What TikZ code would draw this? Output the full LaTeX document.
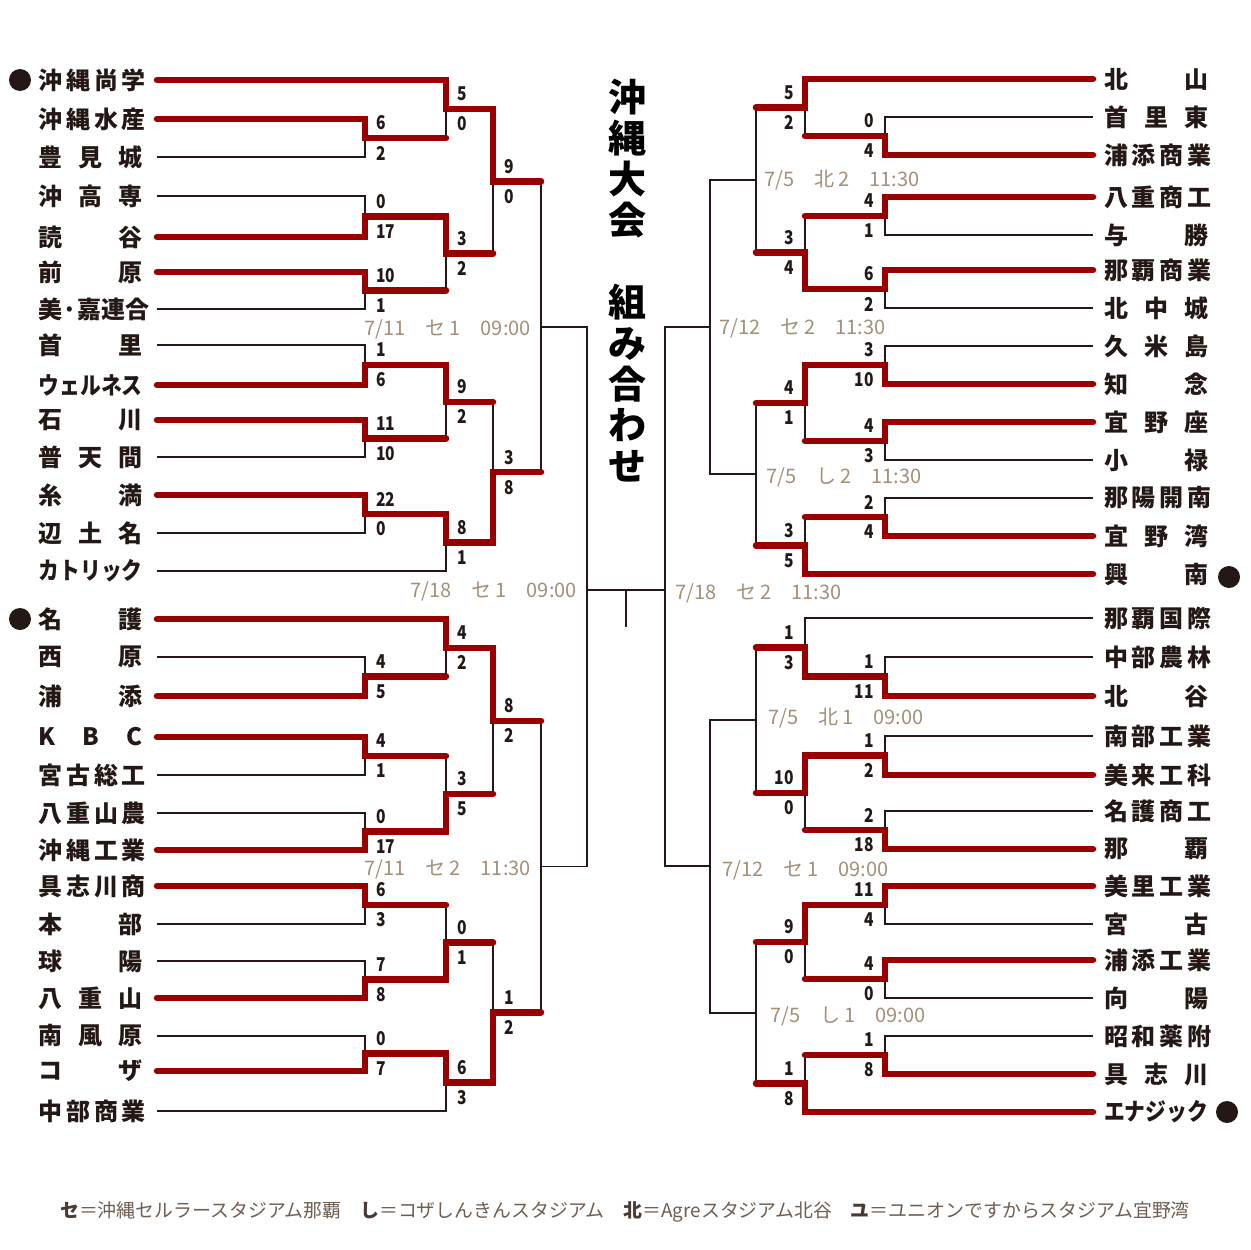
\documentclass[tikz,border=0pt]{standalone}
\usepackage{fontspec}
\usepackage{graphicx}
\usetikzlibrary{calc}
\setmainfont{Noto Sans CJK JP}
\newfontfamily\jp{Noto Sans CJK JP}
\newfontfamily\jpnum{Noto Sans CJK JP}[FakeStretch=0.82]
\definecolor{Ink}{HTML}{231815}
\definecolor{Crimson}{HTML}{990000}
\definecolor{Sand}{HTML}{A38F7A}
\definecolor{Umber}{HTML}{6F5E52}
\definecolor{UmberDark}{HTML}{4A3B32}
\newcommand{\kana}[1]{\scalebox{0.866}[1]{#1}}
\newcommand{\vkey}[1]{{\bfseries\color{UmberDark}#1}}
\tikzset{
  team/.style={font=\jp\bfseries\fontsize{24}{24}\selectfont,text=Ink,inner sep=0pt},
  score/.style={font=\jpnum\bfseries\fontsize{19}{19}\selectfont,text=Ink,inner sep=1pt},
  date/.style={font=\jp\fontsize{20}{20}\selectfont,text=Sand,inner sep=0pt},
  headline/.style={font=\jp\bfseries\fontsize{38}{41}\selectfont,text=black,align=center,inner sep=0pt},
  legend/.style={font=\jp\fontsize{18.9}{19}\selectfont,text=Umber,inner sep=0pt},
  bullet/.style={circle,fill=Ink,minimum size=22pt,inner sep=0pt},
  bline/.style={draw=Ink,line width=1.8pt},
  win/.style={draw=Crimson,line width=6.5pt,line cap=round,line join=miter},
}
% one match: top entry, bottom entry, x of the join, name, scores
\newcommand{\gameL}[6]{%
  \path let \p1=($(#1)!.5!(#2)$) in (#3pt,\y1) coordinate (#4);
  \draw[bline] (#1) -| (#4) |- (#2);
  \node[score,anchor=west] (#4t) at ([shift={(10,-15)}]#4) {#5};
  \node[score,anchor=west] (#4b) at ([shift={(10,15)}]#4) {#6};
}
\newcommand{\gameR}[6]{%
  \path let \p1=($(#1)!.5!(#2)$) in (#3pt,\y1) coordinate (#4);
  \draw[bline] (#1) -| (#4) |- (#2);
  \node[score,anchor=east] (#4t) at ([shift={(-10,-15)}]#4) {#5};
  \node[score,anchor=east] (#4b) at ([shift={(-10,15)}]#4) {#6};
}
% not played yet
\newcommand{\pairup}[4]{%
  \path let \p1=($(#1)!.5!(#2)$) in (#3pt,\y1) coordinate (#4);
  \draw[bline] (#1) -| (#4) |- (#2);
}

\begin{document}
\begin{tikzpicture}[x=1pt,y=-1pt]
  \fill[white] (0,0) rectangle (1250,1250);
  \useasboundingbox (0,0) rectangle (1250,1250);

  % teams, left side
  \foreach \i/\yy/\t in {1/80/沖 縄 尚 学,2/119/沖 縄 水 産,3/157/豊 見 城,4/196/沖 高 専,5/237/読 谷,
      6/272/前 原,7/309/\hfill 美·嘉連合,8/345/首 里,9/385/\kana{ウェルネス},10/420/石 川,
      11/457/普 天 間,12/495/糸 満,13/533/辺 土 名,14/571/\kana{カトリック},
      15/619/名 護,16/657/西 原,17/696/浦 添,18/737/K B C,19/775/宮 古 総 工,20/813/八 重 山 農,
      21/850/沖 縄 工 業,22/886/具 志 川 商,23/924/本 部,24/961/球 陽,25/998/八 重 山,
      26/1036/南 風 原,27/1071/コ ザ,28/1111/中 部 商 業} {
    \node[team,anchor=east] (n\i) at (143,\yy) {\makebox[104pt][s]{\t}};
    \coordinate (a\i) at (157,\yy);
  }
  % teams, right side
  \foreach \i/\yy/\t in {1/79/北 山,2/117/首 里 東,3/155/浦 添 商 業,4/197/八 重 商 工,5/235/与 勝,
      6/270/那 覇 商 業,7/308/北 中 城,8/346/久 米 島,9/384/知 念,10/422/宜 野 座,
      11/460/小 禄,12/498/那 陽 開 南,13/536/宜 野 湾,14/574/興 南,
      15/618/那 覇 国 際,16/657/中 部 農 林,17/696/北 谷,18/736/南 部 工 業,19/775/美 来 工 科,
      20/811/名 護 商 工,21/849/那 覇,22/886/美 里 工 業,23/924/宮 古,24/960/浦 添 工 業,
      25/998/向 陽,26/1036/昭 和 薬 附,27/1074/具 志 川,28/1112/\kana{エナジック}} {
    \node[team,anchor=west] (m\i) at (1104,\yy) {\makebox[104pt][s]{\t}};
    \coordinate (b\i) at (1093,\yy);
  }
  \node[bullet] (s1) at (20,80) {};
  \node[bullet] (s2) at (20,619) {};
  \node[bullet] (s3) at (1229,577) {};
  \node[bullet] (s4) at (1227,1112) {};

  % left bracket
  \gameL{a2}{a3}{365}{lA}{6}{2}
  \gameL{a4}{a5}{365}{lB}{0}{17}
  \gameL{a6}{a7}{365}{lC}{10}{1}
  \gameL{a8}{a9}{365}{lD}{1}{6}
  \gameL{a10}{a11}{365}{lE}{11}{10}
  \gameL{a12}{a13}{365}{lF}{22}{0}
  \gameL{a1}{lA}{446}{lG}{5}{0}
  \gameL{lB}{lC}{446}{lH}{3}{2}
  \gameL{lD}{lE}{446}{lI}{9}{2}
  \gameL{lF}{a14}{446}{lJ}{8}{1}
  \gameL{lG}{lH}{493}{lK}{9}{0}
  \gameL{lI}{lJ}{493}{lL}{3}{8}
  \pairup{lK}{lL}{541}{lM}
  \gameL{a16}{a17}{365}{lN}{4}{5}
  \gameL{a18}{a19}{365}{lO}{4}{1}
  \gameL{a20}{a21}{365}{lP}{0}{17}
  \gameL{a22}{a23}{365}{lQ}{6}{3}
  \gameL{a24}{a25}{365}{lR}{7}{8}
  \gameL{a26}{a27}{365}{lS}{0}{7}
  \gameL{a15}{lN}{446}{lT}{4}{2}
  \gameL{lO}{lP}{446}{lU}{3}{5}
  \gameL{lQ}{lR}{446}{lV}{0}{1}
  \gameL{lS}{a28}{446}{lW}{6}{3}
  \gameL{lT}{lU}{493}{lX}{8}{2}
  \gameL{lV}{lW}{493}{lY}{1}{2}
  \pairup{lX}{lY}{541}{lZ}

  % right bracket
  \gameR{b2}{b3}{885}{rA}{0}{4}
  \gameR{b4}{b5}{885}{rB}{4}{1}
  \gameR{b6}{b7}{885}{rC}{6}{2}
  \gameR{b8}{b9}{885}{rD}{3}{10}
  \gameR{b10}{b11}{885}{rE}{4}{3}
  \gameR{b12}{b13}{885}{rF}{2}{4}
  \gameR{b1}{rA}{805}{rG}{5}{2}
  \gameR{rB}{rC}{805}{rH}{3}{4}
  \gameR{rD}{rE}{805}{rI}{4}{1}
  \gameR{rF}{b14}{805}{rJ}{3}{5}
  \pairup{rG}{rH}{756}{rK}
  \pairup{rI}{rJ}{756}{rL}
  \pairup{rK}{rL}{710}{rM}
  \gameR{b16}{b17}{885}{rN}{1}{11}
  \gameR{b18}{b19}{885}{rO}{1}{2}
  \gameR{b20}{b21}{885}{rP}{2}{18}
  \gameR{b22}{b23}{885}{rQ}{11}{4}
  \gameR{b24}{b25}{885}{rR}{4}{0}
  \gameR{b26}{b27}{885}{rS}{1}{8}
  \gameR{b15}{rN}{805}{rT}{1}{3}
  \gameR{rO}{rP}{805}{rU}{10}{0}
  \gameR{rQ}{rR}{805}{rV}{9}{0}
  \gameR{rS}{b28}{805}{rW}{1}{8}
  \pairup{rT}{rU}{756}{rX}
  \pairup{rV}{rW}{756}{rY}
  \pairup{rX}{rY}{710}{rZ}

  % final
  \coordinate (fl) at (587,590);
  \coordinate (fr) at (665,590);
  \coordinate (champ) at (626,627);
  \draw[bline] (lM) -| (fl) |- (lZ);
  \draw[bline] (rM) -| (fr) |- (rZ);
  \draw[bline] (fl) -- (fr);
  \draw[bline] (fl -| champ) -- (champ);

  % winners
  \draw[win] (a1) -| (lG) -| (lK) -- (lK -| lM);
  \draw[win] (a2) -| (lA) -- (lA -| lG);
  \draw[win] (a5) -| (lB) -| (lH) -- (lH -| lK);
  \draw[win] (a6) -| (lC) -- (lC -| lH);
  \draw[win] (a9) -| (lD) -| (lI) -- (lI -| lL);
  \draw[win] (a10) -| (lE) -- (lE -| lI);
  \draw[win] (a12) -| (lF) -| (lJ) -| (lL) -- (lL -| lM);
  \draw[win] (a15) -| (lT) -| (lX) -- (lX -| lZ);
  \draw[win] (a17) -| (lN) -- (lN -| lT);
  \draw[win] (a18) -| (lO) -- (lO -| lU);
  \draw[win] (a21) -| (lP) -| (lU) -- (lU -| lX);
  \draw[win] (a22) -| (lQ) -- (lQ -| lV);
  \draw[win] (a25) -| (lR) -| (lV) -- (lV -| lY);
  \draw[win] (a27) -| (lS) -| (lW) -| (lY) -- (lY -| lZ);
  \draw[win] (b1) -| (rG) -- (rG -| rK);
  \draw[win] (b3) -| (rA) -- (rA -| rG);
  \draw[win] (b4) -| (rB) -- (rB -| rH);
  \draw[win] (b6) -| (rC) -| (rH) -- (rH -| rK);
  \draw[win] (b9) -| (rD) -| (rI) -- (rI -| rL);
  \draw[win] (b10) -| (rE) -- (rE -| rI);
  \draw[win] (b13) -| (rF) -- (rF -| rJ);
  \draw[win] (b14) -| (rJ) -- (rJ -| rL);
  \draw[win] (b17) -| (rN) -| (rT) -- (rT -| rX);
  \draw[win] (b19) -| (rO) -| (rU) -- (rU -| rX);
  \draw[win] (b21) -| (rP) -- (rP -| rU);
  \draw[win] (b22) -| (rQ) -| (rV) -- (rV -| rY);
  \draw[win] (b24) -| (rR) -- (rR -| rV);
  \draw[win] (b27) -| (rS) -- (rS -| rW);
  \draw[win] (b28) -| (rW) -- (rW -| rY);

  % dates
  \node[date,anchor=east] (dlM) at ([shift={(-10,3)}]lM) {7/11　セ\hspace{4pt}1　09:00};
  \node[date,anchor=east] (dlZ) at ([shift={(-10,3)}]lZ) {7/11　セ\hspace{4pt}2　11:30};
  \node[date,anchor=east] (dfl) at ([shift={(-10,1)}]fl) {7/18　セ\hspace{4pt}1　09:00};
  \node[date,anchor=west] (drK) at ([shift={(8,0)}]rK) {7/5　北\hspace{4pt}2　11:30};
  \node[date,anchor=west] (drL) at ([shift={(10,3)}]rL) {7/5　し\hspace{4pt}2　11:30};
  \node[date,anchor=west] (drM) at ([shift={(9,1)}]rM) {7/12　セ\hspace{4pt}2　11:30};
  \node[date,anchor=west] (dfr) at ([shift={(10,3)}]fr) {7/18　セ\hspace{4pt}2　11:30};
  \node[date,anchor=west] (drX) at ([shift={(12,-2)}]rX) {7/5　北\hspace{4pt}1　09:00};
  \node[date,anchor=west] (drY) at ([shift={(14,4)}]rY) {7/5　し\hspace{4pt}1　09:00};
  \node[date,anchor=west] (drZ) at ([shift={(12,4)}]rZ) {7/12　セ\hspace{4pt}1　09:00};

  % title
  \node[headline] (head) at (627,281) {沖\\縄\\大\\会\\　\\組\\み\\合\\わ\\せ};

  % venues
  \node[legend] (venues) at (625,1212) {\vkey{セ}＝沖縄セルラースタジアム那覇　\vkey{し}＝コザしんきんスタジアム　\vkey{北}＝Agreスタジアム北谷　\vkey{ユ}＝ユニオンですからスタジアム宜野湾};
\end{tikzpicture}
\end{document}
